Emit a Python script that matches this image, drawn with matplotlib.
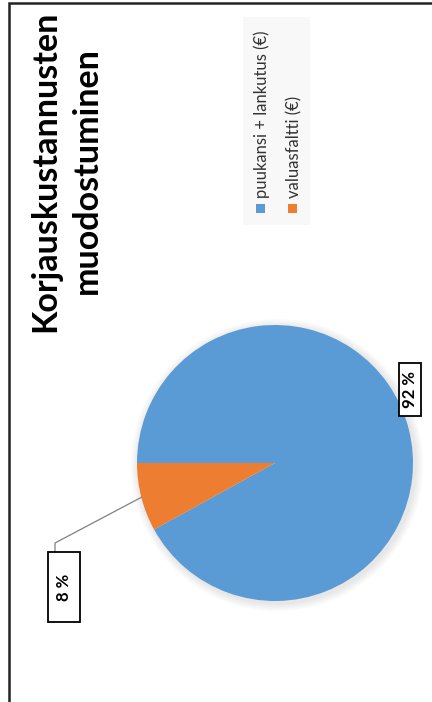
import numpy as np
import matplotlib.pyplot as plt
from matplotlib.patches import Rectangle, Circle

plt.rcParams['font.family'] = ['Lato', 'DejaVu Sans']

# data
categories = ['puukansi + lankutus (€)', 'valuasfaltti (€)']
shares = [92, 8]
labels = ['92 %', '8 %']
colors = ['#5B9BD5', '#ED7D31']
title = 'Korjauskustannusten\nmuodostuminen'

W, H = 432, 702
fig = plt.figure(figsize=(W / 100, H / 100), dpi=100)


def fx(px):
    return px / W


def fy(py):
    # top-origin pixel to figure fraction
    return 1 - py / H


# frame (only top and left edges visible, cut by the image edge)
fig.patches.append(Rectangle((fx(9), fy(760)), fx(500), fy(3) - fy(760),
                             transform=fig.transFigure, fill=False,
                             edgecolor='#222222', linewidth=1.8))

# title, rotated as in the scanned page
fig.text(fx(66), fy(171), title, rotation=90, ha='center', va='center',
         fontsize=24.5, fontweight='bold', multialignment='center',
         linespacing=1.4)

# legend background
fig.patches.append(Rectangle((fx(243), fy(225)), fx(67), fy(17) - fy(225),
                             transform=fig.transFigure, facecolor='#f8f8f8',
                             edgecolor='none'))
for i, (cat, col) in enumerate(zip(categories, colors)):
    x = 260 + i * 32
    fig.patches.append(Rectangle((fx(x - 4.5), fy(213)), fx(9), fy(204) - fy(213),
                                 transform=fig.transFigure, facecolor=col,
                                 edgecolor='none'))
    fig.text(fx(x + 2), fy(198), cat, rotation=90, ha='center', va='bottom',
             fontsize=12, color='#333333')

# pie
cx, cy, r = 275, 463, 138
ax = fig.add_axes([fx(cx - 1.3 * r), fy(cy + 1.3 * r), fx(2.6 * r),
                   fy(cy - 1.3 * r) - fy(cy + 1.3 * r)])
ax.axis('off')

# soft shadow
for k in range(6):
    ax.add_patch(Circle((0.015, -0.015), 1 + 0.01 * (k + 1), facecolor='#000000',
                        alpha=0.015, edgecolor='none', zorder=0))

wedges, _ = ax.pie(shares, colors=colors, startangle=180, counterclock=False,
                   radius=1, wedgeprops=dict(linewidth=0))
ax.set_xlim(-1.3, 1.3)
ax.set_ylim(-1.3, 1.3)


def label_box(x, y, text, bw, bh):
    # x, y, bw, bh in pixels relative to pie centre
    ax.add_patch(Rectangle(((x - bw / 2) / r, (y - bh / 2) / r), bw / r, bh / r,
                           facecolor='white', edgecolor='black', linewidth=1.3,
                           zorder=5, clip_on=False))
    ax.text(x / r, y / r, text, rotation=90, ha='center', va='center',
            fontsize=12, fontweight='bold', zorder=6, clip_on=False)


# 92 % label
label_box(135, 73.5, labels[0], 22, 53)

# 8 % label with leader line from wedge middle
w = wedges[1]
mid = np.deg2rad((w.theta1 + w.theta2) / 2)
sx, sy = np.cos(mid), np.sin(mid)
ax.plot([sx, -220 / r, -220 / r], [sy, -80 / r, -89 / r], color='#808080',
        linewidth=0.9, clip_on=False, zorder=4)
label_box(-211, -124, labels[1], 32, 70)

fig.savefig('out.png', dpi=100)
